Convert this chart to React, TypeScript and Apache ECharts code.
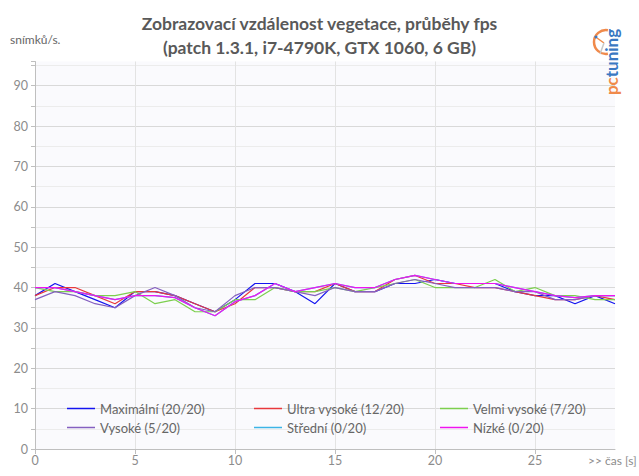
import React, { useEffect, useRef } from 'react';
import * as echarts from 'echarts';

const times = ['0', '1', '2', '3', '4', '5', '6', '7', '8', '9', '10', '11', '12', '13', '14', '15', '16', '17', '18', '19', '20', '21', '22', '23', '24', '25', '26', '27', '28', '29'];

const maximalni = [38, 41, 39, 37, 35, 39, 39, 38, 36, 34, 37, 41, 41, 39, 36, 41, 39, 39, 41, 41, 42, 41, 41, 41, 39, 38, 38, 36, 38, 36];
const ultraVysoke = [38, 40, 40, 38, 36, 39, 39, 38, 36, 34, 36, 40, 40, 39, 39, 41, 39, 39, 42, 43, 41, 41, 40, 40, 39, 38, 37, 37, 38, 37];
const velmiVysoke = [40, 39, 39, 38, 38, 39, 36, 37, 34, 34, 37, 37, 40, 39, 39, 40, 39, 40, 41, 42, 40, 40, 40, 42, 39, 40, 38, 38, 37, 37];
const vysoke = [37, 39, 38, 36, 35, 38, 40, 38, 35, 34, 38, 40, 40, 39, 38, 40, 39, 39, 41, 42, 41, 40, 40, 40, 39, 39, 37, 37, 38, 38];
const stredni = [40, 40, 39, 38, 37, 38, 38, 37.5, 35, 33, 36.5, 38, 41, 39, 40, 41, 40, 40, 42, 43, 42, 41, 41, 41, 40, 39, 38, 37.5, 38, 38];
const nizke = [40, 40, 39, 38, 37, 38, 38, 37.5, 35, 33, 36.5, 38, 41, 39, 40, 41, 40, 40, 42, 43, 42, 41, 41, 41, 40, 39, 38, 37.5, 38, 38];

const seriesNames = ['Maximální (20/20)', 'Ultra vysoké (12/20)', 'Velmi vysoké (7/20)', 'Vysoké (5/20)', 'Střední (0/20)', 'Nízké (0/20)'];
const seriesData = [maximalni, ultraVysoke, velmiVysoke, vysoke, stredni, nizke];
const seriesColors = ['#1414f0', '#e8383c', '#7ccf4e', '#8560c0', '#3cb4e6', '#f014f0'];

const titleLines = ['Zobrazovací vzdálenost vegetace, průběhy fps', '(patch 1.3.1, i7-4790K, GTX 1060, 6 GB)'];
const yUnit = 'snímků/s.';
const xUnit = '>> čas [s]';

const FONT = 'Lato, "Open Sans", sans-serif';

export default function App() {
  const ref = useRef<HTMLDivElement>(null);
  useEffect(() => {
    const chart = echarts.init(ref.current!, null, { renderer: 'svg' });
    const legendCols = [67, 254, 440];
    const legendRows = [402, 421];
    const legends = seriesNames.map((name, i) => ({
      data: [name],
      left: legendCols[i % 3],
      top: legendRows[Math.floor(i / 3)],
      icon: 'rect',
      itemWidth: 28,
      itemHeight: 1.5,
      itemTextGap: 3,
      padding: 0,
      selectedMode: false,
      textStyle: { color: '#666666', fontSize: 13, fontFamily: FONT },
    }));
    const yLineColors: string[] = [];
    for (let i = 0; i < 21; i++) yLineColors.push(i % 2 === 0 ? '#d9d9d9' : '#ececec');
    chart.setOption({
      animation: false,
      backgroundColor: '#ffffff',
      title: {
        text: titleLines.join('\n'),
        left: 'center',
        top: 6,
        textStyle: { fontSize: 17.5, fontWeight: 'bold', color: '#595959', fontFamily: FONT, lineHeight: 24 },
      },
      legend: legends,
      grid: {
        left: 35, right: 24, top: 61.5, bottom: 27,
        show: true, backgroundColor: '#fafafd', borderWidth: 0,
      },
      xAxis: {
        type: 'category',
        data: times,
        boundaryGap: false,
        axisLine: { lineStyle: { color: '#bfbfbf', width: 1 } },
        axisTick: { show: true, length: 5, interval: (i: number) => i % 5 === 0, lineStyle: { color: '#bfbfbf' } },
        axisLabel: { interval: (i: number) => i % 5 === 0, color: '#8c8c8c', fontSize: 12.5, fontFamily: FONT, margin: 5 },
        splitLine: { show: true, interval: (i: number) => i % 5 === 0 && i > 0, lineStyle: { color: '#e3e3e3', width: 1 } },
      },
      yAxis: {
        type: 'value',
        min: 0,
        max: 96,
        interval: 5,
        axisLine: { show: true, lineStyle: { color: '#bfbfbf', width: 1 } },
        axisTick: { show: true, length: 4, lineStyle: { color: '#bfbfbf' } },
        axisLabel: {
          color: '#8c8c8c', fontSize: 12.5, fontFamily: FONT, margin: 7,
          formatter: (v: number) => (v % 10 === 0 ? String(v) : ''),
        },
        splitLine: { show: true, showMaxLine: false, lineStyle: { color: yLineColors, width: 1 } },
      },
      series: seriesNames.map((name, i) => ({
        name,
        type: 'line',
        data: seriesData[i],
        showSymbol: false,
        symbol: 'none',
        lineStyle: { color: seriesColors[i], width: 1.2 },
        itemStyle: { color: seriesColors[i] },
      })),
      graphic: [
        { type: 'text', left: 10, top: 33, style: { text: yUnit, fill: '#666666', fontSize: 12, fontFamily: FONT } },
        { type: 'text', left: 588, top: 454, style: { text: xUnit, fill: '#8c8c8c', fontSize: 12, fontFamily: FONT } },
        { type: 'arc', shape: { cx: 606, cy: 42, r: 12, startAngle: Math.PI * 0.45, endAngle: Math.PI * 1.55 }, style: { stroke: '#f08a4b', lineWidth: 2.5, fill: 'none' } },
        { type: 'line', shape: { x1: 597, y1: 38, x2: 604, y2: 43 }, style: { stroke: '#f08a4b', lineWidth: 1.5 } },
        { type: 'line', shape: { x1: 604, y1: 43, x2: 600, y2: 54 }, style: { stroke: '#c8c8c8', lineWidth: 1.5 } },
        { type: 'circle', shape: { cx: 596, cy: 37, r: 1.5 }, style: { fill: '#3a78c2' } },
        {
          type: 'text',
          x: 611, y: 62,
          rotation: Math.PI / 2,
          style: {
            text: '{a|pc}{b|tuning}',
            align: 'center',
            verticalAlign: 'middle',
            rich: {
              a: { fill: '#f08a4b', fontSize: 17, fontFamily: FONT, fontWeight: 'bold' },
              b: { fill: '#3a78c2', fontSize: 17, fontFamily: FONT, fontWeight: 'bold' },
            },
          },
        },
      ],
    });
    return () => chart.dispose();
  }, []);
  return <div ref={ref} style={{ position: 'fixed', left: 0, top: 0, width: 639, height: 476, background: '#fff' }} />;
}
